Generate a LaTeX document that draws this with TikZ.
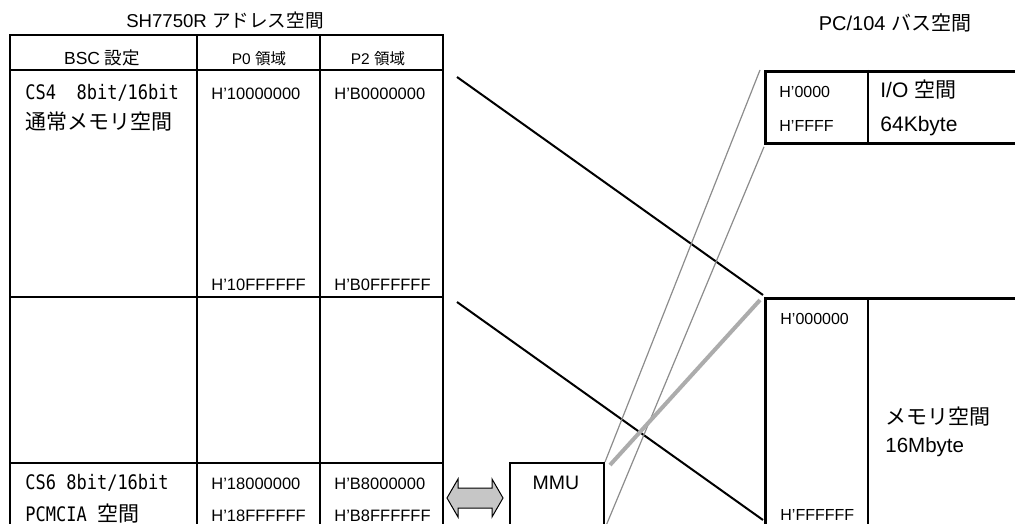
\documentclass[tikz,border=0pt]{standalone}
\usepackage{fontspec}
\setmainfont{Liberation Sans}
\newfontfamily\jpfont{Noto Sans CJK JP}
\newfontfamily\csfont[FakeStretch=0.85]{DejaVu Sans Mono}
\usetikzlibrary{positioning}

\newcommand{\jp}[1]{{\jpfont #1}}

\begin{document}
\begin{tikzpicture}[x=1pt, y=-1pt, line width=2.8pt,
    txt/.style={inner sep=0pt, anchor=base west},
    addr/.style={txt, font=\fontsize{16.5}{19}\selectfont},
    head/.style={inner sep=0pt, anchor=base, font=\fontsize{15.5}{18}\selectfont},
    cs/.style={txt, font=\csfont\fontsize{20}{24}\selectfont},
    big/.style={txt, font=\fontsize{21}{24}\selectfont},
    box/.style={draw, rectangle, inner sep=0pt, anchor=north west},
    maplink/.style={line width=2pt},
    thinlink/.style={draw=gray!90, line width=1.2pt},
    thicklink/.style={draw=gray!65, line width=4pt}]

    \clip (0,0) rectangle (1015,524);

    % SH7750R address space
    \node[inner sep=0pt, anchor=base, font=\fontsize{18.6}{22}\selectfont] (shtitle) at (225,28) {SH7750R \jp{アドレス空間}};
    \draw (10,540) -- (10,35) -- (443,35) -- (443,540);
    \draw (197,35) -- (197,540) (320,35) -- (320,540);
    \draw (10,70) -- (443,70) (10,297) -- (443,297) (10,463) -- (443,463);
    \coordinate (cs4ne) at (443,70);
    \coordinate (cs6ne) at (443,297);

    \node[head, font=\fontsize{17.5}{20}\selectfont] (bschead) at (102,65) {BSC \jp{設定}};
    \node[head] (p0head) at (259,65) {P0 \jp{領域}};
    \node[head] (p2head) at (378,65) {P2 \jp{領域}};

    \node[cs] (cs4bus) at (24,100) {CS4\ \ 8bit/16bit};
    \node[cs] (cs4type) at (24,130) {\jp{\fontsize{21}{24}\selectfont 通常メモリ空間}};
    \node[addr] (cs4p0s) at (210,100) {H'10000000};
    \node[addr] (cs4p2s) at (333,100) {H'B0000000};
    \node[addr] (cs4p0e) at (210,290) {H'10FFFFFF};
    \node[addr] (cs4p2e) at (333,290) {H'B0FFFFFF};

    \node[cs] (cs6bus) at (24,489) {CS6 8bit/16bit};
    \node[cs] (cs6type) at (24,521) {PCMCIA \jp{\fontsize{21}{24}\selectfont 空間}};
    \node[addr] (cs6p0s) at (210,489) {H'18000000};
    \node[addr] (cs6p2s) at (333,489) {H'B8000000};
    \node[addr] (cs6p0e) at (210,521) {H'18FFFFFF};
    \node[addr] (cs6p2e) at (333,521) {H'B8FFFFFF};

    % MMU
    \draw[line width=1pt, fill=gray!45] (447,498) -- (458,479) -- (458,488) -- (492,488) -- (492,479)
        -- (503,498) -- (492,517) -- (492,508) -- (458,508) -- (458,517) -- cycle;
    \node[box, line width=2pt, minimum width=94, minimum height=90] (mmu) at (509,462) {};
    \node[inner sep=0pt, anchor=base, font=\fontsize{19.5}{22}\selectfont] (mmulabel) at (556,489) {MMU};
    \coordinate (mmulow) at (603,533);

    % PC/104 bus space
    \node[inner sep=0pt, anchor=base, font=\fontsize{20}{23}\selectfont] (pctitle) at (895,31) {PC/104 \jp{バス空間}};
    \node[box, minimum width=270, minimum height=72] (io) at (764,70) {};
    \draw (868,70) -- (868,142);
    \node[addr, font=\fontsize{16}{19}\selectfont] (iostart) at (778,98) {H'0000};
    \node[addr, font=\fontsize{16}{19}\selectfont] (ioend) at (778,132) {H'FFFF};
    \node[big] (ioname) at (879,98) {I/O \jp{空間}};
    \node[big] (iosize) at (879,132) {64Kbyte};

    \node[box, minimum width=270, minimum height=260] (mem) at (764,297) {};
    \draw (868,297) -- (868,540);
    \node[addr, font=\fontsize{16}{19}\selectfont] (memstart) at (779,324) {H'000000};
    \node[addr, font=\fontsize{16}{19}\selectfont] (memend) at (779,520) {H'FFFFFF};
    \node[big] (memname) at (884,424) {\jp{メモリ空間}};
    \node[big, font=\fontsize{20.5}{23}\selectfont] (memsize) at (884,452) {16Mbyte};

    % mappings
    \draw[maplink] ([shift={(14,7)}]cs4ne) -- ([shift={(-1,-2)}]mem.north west);
    \draw[maplink] ([shift={(14,5)}]cs6ne) -- ([shift={(-1,223)}]mem.north west);
    \draw[thinlink] (mmu.north east) -- ([xshift=-4]io.north west);
    \draw[thinlink] (mmulow) -- ([yshift=-2]io.south west);
    \draw[thicklink] ([shift={(5,3)}]mmu.north east) -- ([shift={(-4,3)}]mem.north west);
\end{tikzpicture}
\end{document}
